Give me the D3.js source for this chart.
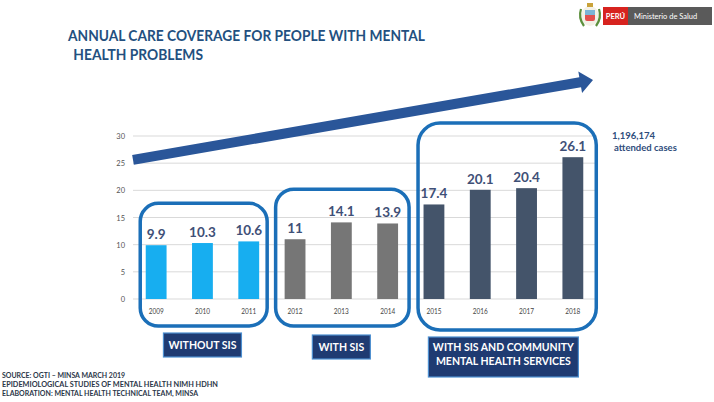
<!DOCTYPE html>
<html><head><meta charset="utf-8">
<script src="https://cdn.jsdelivr.net/npm/d3@7/dist/d3.min.js"></script>
<style>
body{margin:0;background:#fff;}
svg{display:block;}
text{font-family:Lato,"Open Sans",sans-serif;}
</style></head>
<body>
<svg id="chart" width="714" height="402"></svg>
<script>
const years = ["2009","2010","2011","2012","2013","2014","2015","2016","2017","2018"];
const values = [9.9,10.3,10.6,11,14.1,13.9,17.4,20.1,20.4,26.1];
const valueLabels = ["9.9","10.3","10.6","11","14.1","13.9","17.4","20.1","20.4","26.1"];
const periods = ["without","sis","community"];
const periodOf = ["without","without","without","sis","sis","sis","community","community","community","community"];
const periodColors = ["#17aef0","#767676","#44546a"];
const periodNames = [["WITHOUT SIS"],["WITH SIS"],["WITH SIS AND COMMUNITY","MENTAL HEALTH SERVICES"]];
const periodFirst = ["2009","2012","2015"];
const periodLast = ["2011","2014","2018"];
const periodTop = [17.6, 20.2, 32.4];
const yTicks = [0,5,10,15,20,25,30];
const titleLines = ["ANNUAL CARE COVERAGE FOR PEOPLE WITH MENTAL"," HEALTH PROBLEMS"];
const totalCases = "1,196,174";
const totalLabel = "attended cases";
const sourceLines = ["SOURCE: OGTI – MINSA MARCH 2019","EPIDEMIOLOGICAL STUDIES OF MENTAL HEALTH NIMH HDHN","ELABORATION: MENTAL HEALTH TECHNICAL TEAM, MINSA"];

const svg = d3.select("#chart");
const x = d3.scaleBand().domain(years).range([133,596]).paddingInner(0.55).paddingOuter(0.275);
const y = d3.scaleLinear().domain([0,30]).range([299,136]);
const color = d3.scaleOrdinal().domain(periods).range(periodColors);

// title
svg.append("g").selectAll("text").data(titleLines).join("text")
  .attr("x",(d,i)=> i===0?68:70).attr("y",(d,i)=>41+i*19)
  .attr("font-size",15).attr("font-weight",700).attr("fill","#23507f")
  .attr("xml:space","preserve")
  .attr("textLength",(d,i)=> i===0?357:133).attr("lengthAdjust","spacingAndGlyphs")
  .text(d=>d);

// logo
const logo = svg.append("g");
logo.append("ellipse").attr("cx",590).attr("cy",16).attr("rx",9).attr("ry",10).attr("fill","#f3f1e6");
logo.append("path").attr("d","M581,9 Q578,18 584,26 M599,9 Q602,18 596,26").attr("stroke","#5b8f3c").attr("stroke-width",2.2).attr("fill","none");
logo.append("rect").attr("x",585).attr("y",10).attr("width",10).attr("height",11).attr("rx",2).attr("fill","#d33").attr("opacity",0.85);
logo.append("rect").attr("x",585).attr("y",10).attr("width",10).attr("height",5).attr("fill","#7bb4d6");
logo.append("rect").attr("x",587).attr("y",3).attr("width",6).attr("height",4).attr("fill","#c9a23a");
logo.append("rect").attr("x",603).attr("y",7).attr("width",25).attr("height",18).attr("fill","#d7231f");
logo.append("rect").attr("x",628).attr("y",7).attr("width",84).attr("height",18).attr("fill","#5a5a5a");
logo.append("text").attr("x",615.5).attr("y",19).attr("text-anchor","middle").attr("fill","#fff").attr("font-size",7.5).attr("font-weight",700).text("PERÚ");
logo.append("text").attr("x",634).attr("y",19).attr("fill","#fff").attr("font-size",7.5).text("Ministerio de Salud");

// grid
svg.append("g").selectAll("line").data(yTicks).join("line")
  .attr("x1",133).attr("x2",597).attr("y1",d=>y(d)).attr("y2",d=>y(d))
  .attr("stroke","#d9d9d9").attr("stroke-width",1);
svg.append("g").selectAll("text").data(yTicks).join("text")
  .attr("x",125).attr("y",d=>y(d)+3).attr("text-anchor","end")
  .attr("font-size",7.5).attr("fill","#555").text(d=>d);

// arrow
const ax0=133, ay0=y(25.6), ax1=593, ay1=y(40.3);
const ang=Math.atan2(ay1-ay0, ax1-ax0);
const headLen=13, half=5, headHalf=11;
const ux=Math.cos(ang), uy=Math.sin(ang), px=-uy, py=ux;
const bx=ax1-ux*headLen, by=ay1-uy*headLen;
const pts=[[ax0+px*half,ay0+py*half],[bx+px*half,by+py*half],[bx+px*headHalf,by+py*headHalf],[ax1,ay1],[bx-px*headHalf,by-py*headHalf],[bx-px*half,by-py*half],[ax0-px*half,ay0-py*half]];
svg.append("path").attr("d","M"+pts.map(p=>p.join(",")).join("L")+"Z").attr("fill","#2a5699");

// bars
svg.append("g").selectAll("rect").data(years).join("rect")
  .attr("x",d=>x(d)).attr("width",x.bandwidth())
  .attr("y",(d,i)=>y(values[i])).attr("height",(d,i)=>y(0)-y(values[i]))
  .attr("fill",(d,i)=>color(periodOf[i]));
svg.append("g").selectAll("text").data(years).join("text")
  .attr("x",d=>x(d)+x.bandwidth()/2).attr("y",(d,i)=>y(values[i])-6)
  .attr("text-anchor","middle").attr("font-size",13.5).attr("font-weight",700).attr("fill","#3f5077")
  .text((d,i)=>valueLabels[i]);
svg.append("g").selectAll("text").data(years).join("text")
  .attr("x",d=>x(d)+x.bandwidth()/2).attr("y",314)
  .attr("text-anchor","middle").attr("font-size",8).attr("fill","#444")
  .attr("textLength",15).attr("lengthAdjust","spacingAndGlyphs")
  .text(d=>d);

// period boxes
const padL=[5.5,9,5.5], padR=[8,11,13], bottoms=[326,326,330], radii=[18,18,22];
svg.append("g").selectAll("rect").data(periods).join("rect")
  .attr("x",(d,i)=>x(periodFirst[i])-padL[i])
  .attr("width",(d,i)=>x(periodLast[i])+x.bandwidth()+padR[i]-(x(periodFirst[i])-padL[i]))
  .attr("y",(d,i)=>y(periodTop[i])).attr("height",(d,i)=>bottoms[i]-y(periodTop[i]))
  .attr("rx",(d,i)=>radii[i]).attr("fill","none").attr("stroke","#1b6fb8").attr("stroke-width",3.5);

// period labels
const lab = svg.append("g").selectAll("g").data(periods).join("g");
const labW=[78,58,150], labH=[24,24,40], labTop=[333,335,337];
lab.append("rect")
  .attr("x",(d,i)=>(x(periodFirst[i])+x(periodLast[i])+x.bandwidth())/2-labW[i]/2)
  .attr("y",(d,i)=>labTop[i]).attr("width",(d,i)=>labW[i]).attr("height",(d,i)=>labH[i])
  .attr("fill","#1f3b72").attr("stroke","#4d8fd0").attr("stroke-width",1.2);
lab.each(function(d,i){
  const cx=(x(periodFirst[i])+x(periodLast[i])+x.bandwidth())/2;
  d3.select(this).selectAll("text").data(periodNames[i]).join("text")
    .attr("x",cx).attr("y",(t,j)=>labTop[i]+(periodNames[i].length===1?16:14+j*14))
    .attr("text-anchor","middle").attr("fill","#fff").attr("font-size",10.5).attr("font-weight",700)
    .text(t=>t);
});

// annotation
svg.append("text").attr("x",612).attr("y",139).attr("font-size",9.5).attr("font-weight",700).attr("fill","#2f4d7c").text(totalCases);
svg.append("text").attr("x",614).attr("y",151).attr("font-size",9.5).attr("font-weight",700).attr("fill","#2f4d7c").text(totalLabel);

// source
svg.append("g").selectAll("text").data(sourceLines).join("text")
  .attr("x",2).attr("y",(d,i)=>377.5+i*9.4)
  .attr("font-size",6.8).attr("font-weight",700).attr("fill","#2b3648")
  .attr("textLength",(d,i)=>[123,216,196][i]).attr("lengthAdjust","spacingAndGlyphs")
  .text(d=>d);
</script>
</body></html>
